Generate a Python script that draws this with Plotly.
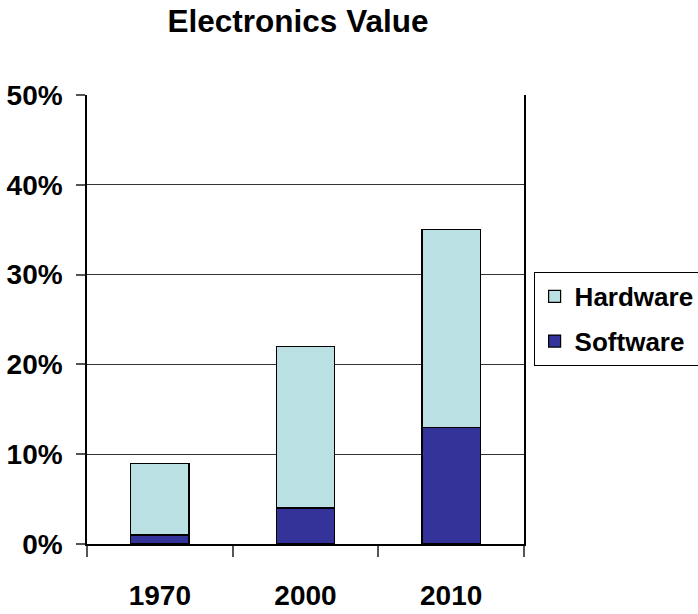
import plotly.graph_objects as go

# Share of total product value contributed by electronics
years = ["1970", "2000", "2010"]
software = [0.01, 0.04, 0.13]
hardware = [0.08, 0.18, 0.22]

y_ticks = [0, 0.1, 0.2, 0.3, 0.4, 0.5]

hw_color = "#BBE0E3"
sw_color = "#333399"

tick_font = dict(family="Liberation Sans, Arial", size=28, color="black", weight="bold")

fig = go.Figure()
fig.add_trace(go.Bar(
    x=years, y=software, name="Software", legendgroup="sw", legendrank=2,
    marker=dict(color=sw_color, line=dict(color="black", width=1.2)),
))
fig.add_trace(go.Bar(
    x=years, y=hardware, name="Hardware", legendgroup="hw", legendrank=1,
    marker=dict(color=hw_color, line=dict(color="black", width=1.2)),
))

fig.update_layout(
    width=698, height=614,
    barmode="stack", bargap=0.6,
    plot_bgcolor="white", paper_bgcolor="white",
    margin=dict(l=87, r=174, t=95, b=70, autoexpand=False),
    title=dict(
        text="<b>Electronics Value</b>",
        font=dict(family="Liberation Sans, Arial", size=31.5, color="black"),
        x=298 / 698, xanchor="center", xref="container",
        y=0.966, yanchor="middle", yref="container",
    ),
    legend=dict(
        x=1.022, xanchor="left", y=0.606, yanchor="top",
        traceorder="grouped", tracegroupgap=8,
        font=dict(family="Liberation Sans, Arial", size=26, color="black", weight="bold"),
        bordercolor="black", borderwidth=1, bgcolor="white",
    ),
    showlegend=True,
)

fig.update_xaxes(
    type="category", tickson="boundaries", automargin=False,
    ticks="outside", ticklen=11, tickcolor="#555", tickwidth=1.5,
    showline=True, linecolor="black", linewidth=1.5,
    showgrid=False, tickfont=tick_font, ticklabelstandoff=26,
)
fig.update_yaxes(
    range=[0, 0.5], tickvals=y_ticks, tickformat=".0%", automargin=False,
    ticks="outside", ticklen=9, tickcolor="#555", tickwidth=1.5,
    showline=True, linecolor="black", linewidth=1.5, mirror=True,
    showgrid=True, gridcolor="#333", gridwidth=1.2,
    zeroline=False, tickfont=tick_font, ticklabelstandoff=8,
)

fig.write_html("out.html")
